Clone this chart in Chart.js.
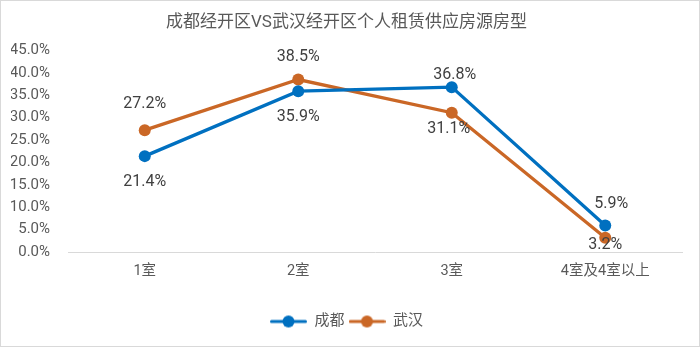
<!DOCTYPE html>
<html>
<head>
<meta charset="utf-8">
<script src="https://cdn.jsdelivr.net/npm/chart.js@4"></script>
<style>
  html, body { margin: 0; padding: 0; background: #fff; }
  #wrap { width: 700px; height: 347px; box-sizing: border-box; border: 1px solid #d9d9d9; position: relative; }
  canvas { display: block; }
</style>
</head>
<body>
<div id="wrap"><canvas id="chart" width="698" height="345"></canvas></div>
<script>
const titleText = "成都经开区VS武汉经开区个人租赁供应房源房型";
const categories = ["1室", "2室", "3室", "4室及4室以上"];
const chengdu = [21.4, 35.9, 36.8, 5.9];
const wuhan = [27.2, 38.5, 31.1, 3.2];
const seriesNames = ["成都", "武汉"];
const yTicks = [0, 5, 10, 15, 20, 25, 30, 35, 40, 45];

const blue = "#0070C0";
const orange = "#CA6726";
const font = "Roboto, 'Noto Sans CJK SC', sans-serif";

// where each value label sits relative to its point (dx, dy)
const labelOffsets = [
  [[0, 26], [0, 26], [3, -12], [6, -22]],
  [[0, -26], [0, -23], [-3, 16], [0, 7]]
];

// legend swatch: line with a dot
function swatch(color) {
  const c = document.createElement("canvas");
  c.width = 37; c.height = 14;
  const g = c.getContext("2d");
  g.strokeStyle = color; g.lineWidth = 3; g.lineCap = "round";
  g.beginPath(); g.moveTo(1.5, 7); g.lineTo(35.5, 7); g.stroke();
  g.fillStyle = color;
  g.beginPath(); g.arc(18.5, 7, 6, 0, Math.PI * 2); g.fill();
  return c;
}
const swatches = [swatch(blue), swatch(orange)];

const valueLabels = {
  id: "valueLabels",
  afterDatasetsDraw(chart) {
    const ctx = chart.ctx;
    ctx.save();
    ctx.font = "16px " + font;
    ctx.fillStyle = "#404040";
    ctx.textAlign = "center";
    ctx.textBaseline = "middle";
    chart.data.datasets.forEach((ds, i) => {
      chart.getDatasetMeta(i).data.forEach((pt, j) => {
        const [dx, dy] = labelOffsets[i][j];
        ctx.fillText(ds.data[j].toFixed(1) + "%", pt.x + dx, pt.y + dy);
      });
    });
    ctx.restore();
  }
};

new Chart(document.getElementById("chart"), {
  type: "line",
  data: {
    labels: categories,
    datasets: [
      { label: seriesNames[0], data: chengdu, borderColor: blue, backgroundColor: blue,
        borderWidth: 3.3, pointRadius: 6, pointHoverRadius: 6, pointBorderWidth: 0, tension: 0 },
      { label: seriesNames[1], data: wuhan, borderColor: orange, backgroundColor: orange,
        borderWidth: 3.3, pointRadius: 6, pointHoverRadius: 6, pointBorderWidth: 0, tension: 0 }
    ]
  },
  options: {
    responsive: false,
    animation: false,
    events: [],
    layout: { padding: { left: 10, right: 17, top: 0, bottom: 7 } },
    scales: {
      x: {
        offset: true,
        grid: { display: false },
        border: { color: "#d9d9d9", width: 1 },
        ticks: { color: "#595959", font: { family: font, size: 14.5 }, padding: 3 },
        afterFit: (axis) => { axis.height = 58; }
      },
      y: {
        min: 0, max: 45,
        afterBuildTicks: (axis) => { axis.ticks = yTicks.map(v => ({ value: v })); },
        afterFit: (axis) => { axis.width = 57; },
        grid: { display: false },
        border: { display: false },
        ticks: { color: "#595959", font: { family: font, size: 15 }, padding: 10,
                 callback: (v) => v.toFixed(1) + "%" }
      }
    },
    plugins: {
      title: {
        display: true, text: titleText, color: "#595959",
        font: { family: font, size: 17, weight: "normal" },
        padding: { top: 12, bottom: 17 }
      },
      legend: {
        position: "bottom",
        labels: {
          usePointStyle: true, pointStyleWidth: 37, padding: 4,
          color: "#595959", font: { family: font, size: 15 },
          generateLabels: (chart) => Chart.defaults.plugins.legend.labels.generateLabels(chart)
            .map((item, i) => Object.assign(item, { pointStyle: swatches[i] }))
        }
      },
      tooltip: { enabled: false }
    }
  },
  plugins: [valueLabels]
});
</script>
</body>
</html>
